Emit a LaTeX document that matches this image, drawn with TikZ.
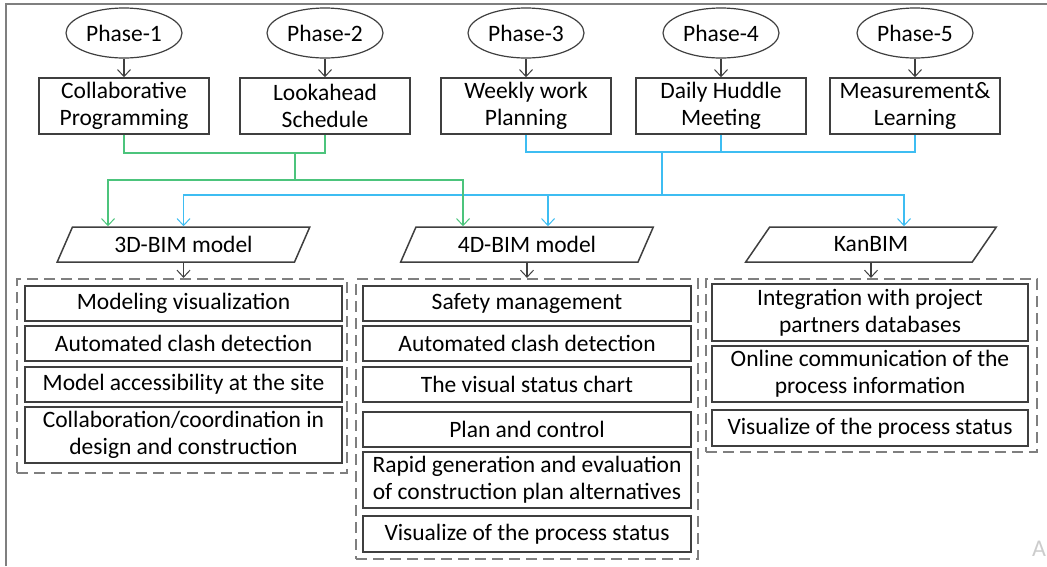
\documentclass[tikz,border=0pt]{standalone}
\usepackage{fontspec}
\setmainfont{Carlito}
\usetikzlibrary{shapes.geometric,arrows.meta}
\definecolor{edgegray}{HTML}{3F3F3F}
\definecolor{greenlink}{HTML}{4CC47C}
\definecolor{bluelink}{HTML}{3EBDF2}
\definecolor{framegray}{HTML}{7F7F7F}
\begin{document}
\begin{tikzpicture}[x=1pt,y=-1pt,
  every node/.style={font=\fontsize{23.5}{27}\selectfont, text=black, inner sep=0pt, align=center},
  phase/.style={ellipse, draw=edgegray, line width=1.2pt, minimum width=116pt, minimum height=50pt},
  stagebox/.style={rectangle, draw=edgegray, line width=1.5pt, minimum width=170pt, minimum height=56pt},
  model/.style={trapezium, trapezium left angle=60, trapezium right angle=120, trapezium stretches=true,
    draw=edgegray, line width=1.5pt, minimum width=253pt, minimum height=35pt},
  item/.style={rectangle, draw=edgegray, line width=1.5pt},
  group/.style={rectangle, draw=framegray, line width=2.2pt, dash pattern=on 11pt off 6pt},
  tip/.style={-{Straight Barb[length=7pt,width=13pt,line width=1pt]}},
  link/.style={draw=edgegray, line width=1.1pt},
  glink/.style={draw=greenlink, line width=1.4pt},
  blink/.style={draw=bluelink, line width=1.4pt},
]
\useasboundingbox (0,0) rectangle (1047,566);
% outer frame (cropped)
\draw[framegray, line width=1.3pt] (6,566) -- (6,4) -- (1047,4);

% phases
\node[phase] (p1) at (124,33) {Phase-1};
\node[phase] (p2) at (325,33) {Phase-2};
\node[phase] (p3) at (526,33) {Phase-3};
\node[phase] (p4) at (721,33) {Phase-4};
\node[phase] (p5) at (915,33) {Phase-5};

% last planner stages
\node[stagebox] (s1) at (124,106) {Collaborative\\Programming};
\node[stagebox] (s2) at (325,106) {Lookahead\\Schedule};
\node[stagebox] (s3) at (526,106) {Weekly work\\Planning};
\node[stagebox] (s4) at (721,106) {Daily Huddle\\Meeting};
\node[stagebox] (s5) at (915,106) {Measurement\&\\Learning};

\foreach \i in {1,...,5} \draw[link,tip] (p\i.south) -- (s\i.north);

% BIM models
\node[model] (m3) at (183.5,244.5) {3D-BIM model};
\node[model] (m4) at (527,244.5) {4D-BIM model};
\node[model] (mk) at (871,244.5) {KanBIM};

% junctions of the coloured buses
\coordinate (gj) at (295,153);
\coordinate (gs) at (295,180);
\coordinate (bj) at (662,152);
\coordinate (bs) at (662,195);
\coordinate (g3) at ([xshift=-75.5pt]m3.north);
\coordinate (g4) at ([xshift=-64pt]m4.north);
\coordinate (b4) at ([xshift=21pt]m4.north);
\coordinate (bk) at ([xshift=33pt]mk.north);

% blue bus: phases 3-5
\draw[blink] (s3.south) |- (bj);
\draw[blink] (s5.south) |- (bj);
\draw[blink] (s4.south) -- (s4.south |- bj);
\draw[blink] (bj) -- (bs);
\draw[blink,tip] (bs) -| (m3.north);
\draw[blink,tip] (bs) -| (b4);
\draw[blink,tip] (bs) -| (bk);

% green bus: phases 1-2
\draw[glink] (s1.south) |- (gj);
\draw[glink] (s2.south) |- (gj);
\draw[glink] (gj) -- (gs);
\draw[glink,tip] (gs) -| (g3);
\draw[glink,tip] (gs) -| (g4);

% dashed groups
\node[group, minimum width=330pt, minimum height=194pt] (grp3) at (182,376) {};
\node[group, minimum width=342pt, minimum height=280pt] (grp4) at (527,419) {};
\node[group, minimum width=331pt, minimum height=173pt] (grpk) at (871.5,365.5) {};

\draw[link,tip] (m3.south) -- (m3.south |- grp3.north);
\draw[link,tip] (m4.south) -- (m4.south |- grp4.north);
\draw[link,tip] (mk.south) -- (mk.south |- grpk.north);

% 3D-BIM uses
\node[item, minimum width=317pt, minimum height=35pt] (a1) at (183.5,303.5) {Modeling visualization};
\node[item, minimum width=317pt, minimum height=35pt] (a2) at (183.5,343.5) {Automated clash detection};
\node[item, minimum width=317pt, minimum height=35pt] (a3) at (183.5,384.5) {Model accessibility at the site};
\node[item, minimum width=317pt, minimum height=56pt] (a4) at (183.5,435) {Collaboration/coordination in\\design and construction};

% 4D-BIM uses
\node[item, minimum width=328pt, minimum height=35pt] (b1) at (527,303.5) {Safety management};
\node[item, minimum width=328pt, minimum height=35pt] (b2) at (527,343.5) {Automated clash detection};
\node[item, minimum width=328pt, minimum height=35pt] (b3) at (527,384.5) {The visual status chart};
\node[item, minimum width=328pt, minimum height=35pt] (b4n) at (527,429.5) {Plan and control};
\node[item, minimum width=328pt, minimum height=56pt] (b5) at (527,480) {Rapid generation and evaluation\\of construction plan alternatives};
\node[item, minimum width=328pt, minimum height=36pt] (b6) at (527,534) {Visualize of the process status};

% KanBIM uses
\node[item, minimum width=316pt, minimum height=57pt] (k1) at (870,312.5) {Integration with project\\partners databases};
\node[item, minimum width=316pt, minimum height=56pt] (k2) at (870,374) {Online communication of the\\process information};
\node[item, minimum width=316pt, minimum height=36pt] (k3) at (870,428) {Visualize of the process status};

\node[text=black!20, font=\fontsize{24}{24}\selectfont] (mark) at (1039,549) {A};
\end{tikzpicture}
\end{document}
